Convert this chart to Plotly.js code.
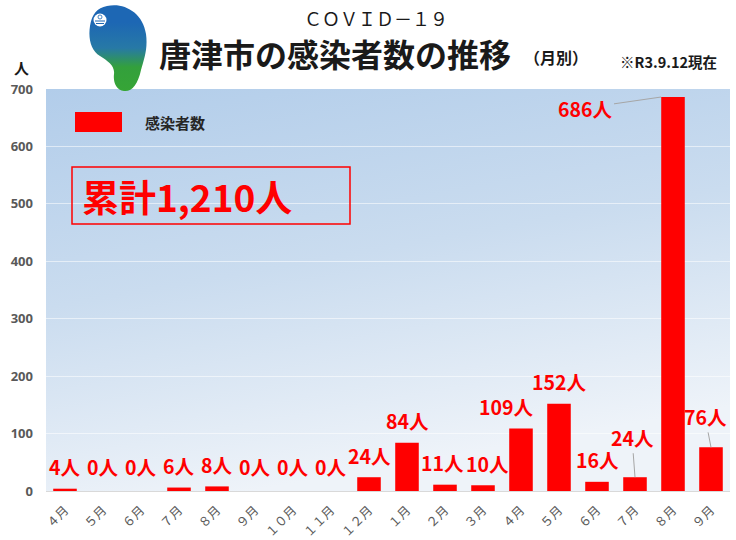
<!DOCTYPE html>
<html>
<head>
<meta charset="utf-8">
<script src="https://cdn.plot.ly/plotly-3.0.1.min.js"></script>
<style>html,body{margin:0;padding:0;background:#fff;}#chart{width:736px;height:540px;}</style>
</head>
<body>
<div id="chart"></div>
<script>
// ---- data ----
const months = ["４月","５月","６月","７月","８月","９月","１０月","１１月","１２月","１月","２月","３月","４月","５月","６月","７月","８月","９月"];
const cases = [4, 0, 0, 6, 8, 0, 0, 0, 24, 84, 11, 10, 109, 152, 16, 24, 686, 76];
const caseLabels = cases.map(v => v + "人");
const seriesName = "感染者数";
const titleTop = "ＣＯＶＩＤ－１９";
const titleMain = "唐津市の感染者数の推移";
const titleSub = "（月別）";
const asOf = "※R3.9.12現在";
const unit = "人";

// ---- geometry helpers ----
const W = 736, H = 540, M = {l: 46, r: 6, t: 89, b: 49};
const pw = W - M.l - M.r, ph = H - M.t - M.b;
const px = x => (x - M.l) / pw;
const py = y => (H - M.b - y) / ph;

const idx = cases.map((_, i) => i);
const total = cases.reduce((a, b) => a + b, 0);

const RED = "#ff0000";
const JP = "Noto Sans CJK JP, Noto Sans, sans-serif";

// label style overrides (offsets in pixels)
const labelStyle = {
  10: {xshift: -3},
  11: {xshift: 4},
  12: {xshift: -15},
  15: {arrow: true, ax: -3, ay: -40},
  16: {arrow: true, ax: -76, ay: 11, xshift: -12},
  17: {arrow: true, ax: -6, ay: -31}
};

const annotations = [];
idx.forEach(i => {
  const s = labelStyle[i] || {};
  const a = {
    x: i, y: cases[i], xref: "x", yref: "y",
    text: caseLabels[i],
    font: {family: JP, size: 19.5, color: RED, weight: "bold"},
    xanchor: "center", yanchor: "middle"
  };
  if (s.arrow) {
    a.showarrow = true; a.arrowhead = 0; a.arrowwidth = 1; a.arrowcolor = "#a6a6a6";
    a.ax = s.ax; a.ay = s.ay; a.standoff = 0;
    if (s.xshift) a.xshift = s.xshift;
  } else {
    a.showarrow = false; a.yshift = cases[i] === 0 ? 25 : 22;
    if (s.xshift) a.xshift = s.xshift;
  }
  annotations.push(a);
});

function txt(text, x, y, size, opts) {
  return Object.assign({
    text: text, x: px(x), y: py(y), xref: "paper", yref: "paper",
    showarrow: false, xanchor: "center", yanchor: "middle",
    font: {family: JP, size: size, color: "#1a1a1a", weight: "bold"}
  }, opts || {});
}
annotations.push(txt(titleTop, 376, 18, 18, {font: {family: JP, size: 18, color: "#1a1a1a"}}));
annotations.push(txt(titleMain, 335, 53, 32));
annotations.push(txt(titleSub, 556, 57, 16));
annotations.push(txt(asOf, 668, 62, 14.5));
annotations.push(txt(unit, 21, 68, 15));
annotations.push(txt(seriesName, 143, 122, 15, {xanchor: "left", font: {family: JP, size: 15, color: "#262626", weight: "bold"}}));
annotations.push(txt("累計" + total.toLocaleString("en-US") + "人", 80, 196, 37, {xanchor: "left", font: {family: JP, size: 37, color: RED, weight: "bold"}}));

// background gradient & logo as inline svg images
const bgSvg = "<svg xmlns='http://www.w3.org/2000/svg' width='684' height='402' viewBox='0 0 684 402' preserveAspectRatio='none'><defs><linearGradient id='g' x1='0' y1='0' x2='0.3' y2='1'><stop offset='0' stop-color='#b2cdea'/><stop offset='0.5' stop-color='#cadcef'/><stop offset='1' stop-color='#eef3f9'/></linearGradient></defs><rect width='684' height='402' fill='url(#g)'/></svg>";
const logoSvg = "<svg xmlns='http://www.w3.org/2000/svg' width='62' height='88' viewBox='0 0 62 88'><defs><linearGradient id='lg' x1='0' y1='0' x2='0' y2='1'><stop offset='0.2' stop-color='#1d67b4'/><stop offset='0.5' stop-color='#2779a6'/><stop offset='0.72' stop-color='#33a03c'/><stop offset='1' stop-color='#36a536'/></linearGradient></defs><path d='M20 2 C36 -2 56 8 59 30 C61 45 57 55 54 66 C51 80 45 88 37 87 C29 86 26 78 27 70 C28 62 21 57 13 52 C4 46 1 35 3 22 C5 10 10 4 20 2 Z' fill='url(#lg)'/><circle cx='13' cy='16' r='6.5' fill='#ffffff'/><path d='M8 17 L18 17 M9 19.5 L17 19.5' stroke='#1d67b4' stroke-width='1'/><circle cx='13' cy='13' r='2' fill='none' stroke='#1d67b4' stroke-width='0.8'/></svg>";
const uri = s => "data:image/svg+xml;charset=utf-8," + encodeURIComponent(s);

const images = [
  {source: uri(bgSvg), xref: "paper", yref: "paper", x: 0, y: 1, sizex: 1, sizey: 1,
   sizing: "stretch", xanchor: "left", yanchor: "top", layer: "below"},
  {source: uri(logoSvg), xref: "paper", yref: "paper", x: px(87), y: py(4),
   sizex: 62 / pw, sizey: 88 / ph, sizing: "stretch", xanchor: "left", yanchor: "top", layer: "above"}
];

const shapes = [
  {type: "rect", xref: "paper", yref: "paper", x0: px(75), x1: px(122), y0: py(132), y1: py(112),
   fillcolor: RED, line: {width: 0}},
  {type: "rect", xref: "paper", yref: "paper", x0: px(72), x1: px(350), y0: py(224), y1: py(167),
   fillcolor: "rgba(0,0,0,0)", line: {color: RED, width: 1.5}}
];

const trace = {
  type: "bar", x: idx, y: cases, name: seriesName,
  marker: {color: RED}, width: 0.62, hoverinfo: "skip", showlegend: false
};

const layout = {
  width: W, height: H,
  margin: Object.assign({autoexpand: false}, M),
  paper_bgcolor: "#ffffff", plot_bgcolor: "rgba(0,0,0,0)",
  showlegend: false,
  xaxis: {
    range: [-0.5, cases.length - 0.5], tickvals: idx, ticktext: months, tickangle: -45,
    tickfont: {family: JP, size: 12.5, color: "#595959"},
    showgrid: false, zeroline: false, showline: true, linecolor: "#d9d9d9", linewidth: 1,
    ticks: "", ticklabelstandoff: 6, fixedrange: true
  },
  yaxis: {
    range: [0, 700], dtick: 100, tick0: 0,
    tickfont: {family: "Open Sans, sans-serif", size: 13, color: "#595959", weight: "bold"},
    gridcolor: "rgba(255,255,255,0.55)", gridwidth: 1, zeroline: false, showline: false,
    ticks: "", ticklabelstandoff: 12, fixedrange: true
  },
  annotations: annotations, images: images, shapes: shapes
};

Plotly.newPlot("chart", [trace], layout, {staticPlot: true, displayModeBar: false});
</script>
</body>
</html>
